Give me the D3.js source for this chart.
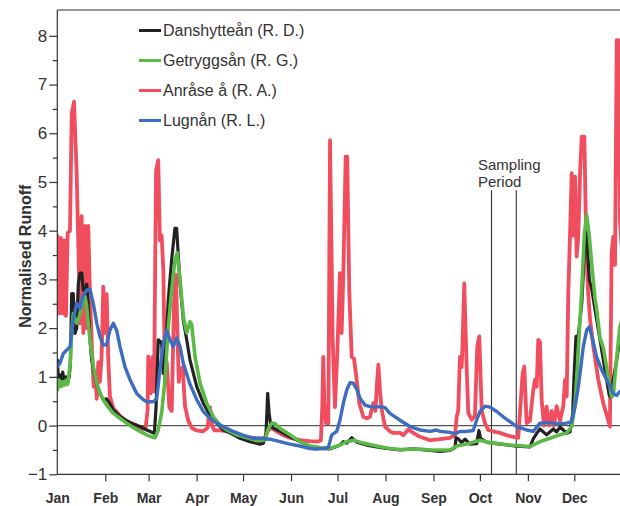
<!DOCTYPE html>
<html>
<head>
<meta charset="utf-8">
<script src="https://cdn.jsdelivr.net/npm/d3@7"></script>
<style>
  html, body { margin: 0; padding: 0; background: #fff; }
  svg { display: block; font-family: "Liberation Sans", Arial, sans-serif; }
</style>
</head>
<body>
<svg id="chart" width="620" height="506"></svg>
<script>
// Daily normalised runoff, one year (day of year, value)
const danshyttean = [
  [0,1.35],[0.6,1.0],[1.3,1.05],[2.4,0.86],[3.5,1.1],[4.5,0.85],[5.6,1.0],[6.7,0.9],[7.7,1.0],[8.5,1.3],
  [9.3,2.71],[10.3,2.71],[11.4,1.89],[12.5,2.0],[13.6,2.92],[14.7,3.13],[15.8,3.13],[16.8,2.78],[17.9,2.75],
  [19,2.9],[20,2.44],[21.1,1.76],[22.2,1.35],[23.3,1.15],[25.5,0.86],[27.6,0.66],[29.7,0.53],[31.9,0.55],
  [34,0.45],[36.2,0.32],[40.5,0.19],[44.8,0.1],[49.1,0.03],[53.4,-0.02],[57.8,-0.09],[60,-0.12],[62.7,-0.16],
  [63.8,0.39],[65.2,1.76],[67.4,1.7],[68.5,1.07],[70.2,1.62],[71.7,2.58],[73.9,3.41],[76,4.05],[77.1,4.05],
  [78.2,3.47],[79.3,2.92],[81.4,2.17],[83.6,1.76],[85.7,1.35],[87.9,1.07],[90.1,0.8],[94.3,0.46],[98.6,0.22],
  [103,0.05],[107.2,-0.09],[111.6,-0.15],[118,-0.26],[124.5,-0.33],[131,-0.38],[133.1,-0.36],[134.8,-0.2],
  [135.9,0.66],[136.8,0.26],[137.9,0.0],[139.5,-0.05],[143.9,-0.12],[150.3,-0.23],[156.8,-0.33],[163.2,-0.43],
  [169.7,-0.47],[176.2,-0.48],[182.6,-0.4],[184.8,-0.33],[187,-0.36],[190.2,-0.25],[193.4,-0.34],[199.9,-0.4],
  [206.3,-0.44],[212.8,-0.47],[221.4,-0.5],[230,-0.48],[240.8,-0.51],[247.2,-0.53],[253.7,-0.51],[256.9,-0.45],
  [257.6,-0.25],[259,-0.27],[261.2,-0.35],[263.4,-0.28],[266.6,-0.38],[270.9,-0.37],[272.4,-0.1],[273.5,-0.27],
  [277.4,-0.34],[286,-0.38],[296.8,-0.42],[305.3,-0.44],[307.5,-0.27],[309.7,-0.16],[311.8,-0.07],[314,-0.13],
  [316.1,-0.19],[320.4,-0.07],[322.6,-0.13],[324.7,-0.03],[326.9,-0.09],[329.1,-0.16],[331.2,-0.13],[333,0.26],
  [333.8,1.0],[335.1,1.83],[336.6,1.85],[338.8,2.51],[340.5,3.54],[341.6,4.08],[342.7,3.54],[343.7,2.99],
  [345.3,2.8],[347.4,2.37],[350.6,1.76],[353.8,1.14],[356.6,0.62],[357.5,0.58],[359.2,0.95],[361.4,1.35],
  [363.5,1.8],[365,1.95]
];

const getryggsan = [
  [0,0.73],[1.3,0.93],[2.4,0.8],[3.5,0.9],[4.5,0.83],[5.6,0.93],[6.7,0.85],[8.2,1.21],[9.3,1.89],[10.3,2.3],
  [12.5,2.1],[13.6,2.17],[14.7,2.3],[15.8,2.45],[16.8,2.58],[17.9,2.65],[19,2.45],[20,2.1],[21.1,1.76],
  [23.3,1.21],[25.5,0.87],[27.6,0.66],[29.7,0.53],[31.9,0.42],[36.2,0.25],[40.5,0.15],[44.8,0.05],[49.1,-0.04],
  [53.4,-0.12],[57.8,-0.19],[60,-0.22],[63.1,-0.25],[65.2,-0.09],[67.4,0.26],[69.6,0.94],[71.7,2.03],[73.9,2.78],
  [76,3.4],[77.5,3.55],[79.3,2.99],[81.4,2.24],[83.6,1.9],[85.7,2.13],[86.8,2.08],[89,1.41],[92.2,0.87],
  [96.5,0.46],[100.8,0.18],[105.1,0.01],[109.4,-0.09],[115.9,-0.19],[122.4,-0.25],[128.8,-0.31],[134.2,-0.3],
  [136.3,-0.06],[138.5,0.05],[140.6,0.04],[143.9,-0.06],[150.3,-0.19],[156.8,-0.33],[163.2,-0.42],[169.7,-0.45],
  [176.2,-0.47],[182.6,-0.4],[187,-0.33],[191.2,-0.3],[197.7,-0.36],[206.3,-0.42],[214.9,-0.47],[221.4,-0.49],
  [234.3,-0.48],[240.8,-0.5],[253.7,-0.5],[258,-0.42],[264.5,-0.38],[273.1,-0.3],[279.5,-0.35],[292.4,-0.4],
  [305.3,-0.43],[311.8,-0.33],[318.3,-0.26],[324.7,-0.19],[329.1,-0.15],[332.3,-0.02],[334.5,0.46],[335.9,1.14],
  [337,1.8],[338.8,2.78],[340.5,3.95],[342,4.32],[343.7,3.88],[345.3,3.3],[347.4,2.6],[348.4,2.4],[350.6,1.8],
  [352.7,1.6],[355.9,1.0],[358.1,0.59],[359.2,0.62],[361.4,1.41],[363.5,2.03],[365,2.2]
];

const anrase = [
  [0,3.9],[1.3,2.3],[2.4,3.85],[3.5,2.3],[4.5,3.8],[5.6,2.25],[6.7,3.95],[8.2,4.0],[9.3,6.4],[10.8,6.65],
  [12.5,5.2],[13.5,3.8],[14.7,2.1],[15.7,4.3],[16.8,1.9],[17.9,4.1],[19,2.0],[20,4.1],[21.1,2.7],[22.5,1.5],
  [23.5,0.8],[24.4,1.1],[25.5,0.55],[26.5,1.3],[27.5,0.9],[28.6,1.4],[29.7,2.85],[30.6,1.9],[31.9,2.7],[33,1.3],
  [34,0.6],[36.2,0.35],[38.4,0.28],[41,0.18],[44.8,0.08],[48,0.05],[51.3,0.0],[54,-0.08],[57,-0.05],[58.3,0.3],
  [58.8,1.42],[60.3,0.66],[61.6,1.41],[62.5,0.7],[63.8,5.24],[65.2,5.45],[66.3,3.8],[67.4,3.9],[68.5,3.2],
  [69.6,0.9],[70.7,1.3],[72.4,0.38],[73.9,0.3],[75.4,2.5],[76.7,3.1],[77.5,2.0],[78.5,0.9],[79.3,1.1],[81,1.2],
  [82.5,0.4],[84.6,0.1],[87,-0.05],[90,-0.1],[94,-0.12],[97,-0.05],[98.6,0.38],[100,0.0],[101.5,-0.1],[105,-0.1],
  [110,-0.12],[114,-0.18],[120,-0.22],[126,-0.25],[131,-0.27],[134,-0.25],[136,-0.1],[138.5,-0.05],[141.7,-0.12],
  [146,-0.2],[150,-0.25],[157,-0.3],[163,-0.32],[168.4,-0.33],[170.3,-0.3],[171.2,0.4],[171.8,1.41],[172.5,0.5],
  [173.6,0.05],[175.1,0.05],[176.2,5.86],[177.9,1.76],[179.4,0.38],[180.9,1.5],[182.6,3.13],[183.7,1.9],
  [184.8,3.13],[186.3,5.52],[187.3,5.52],[188.6,2.78],[190.2,1.41],[191.7,1.37],[193.4,0.94],[195.1,0.46],
  [197.7,0.18],[200,0.15],[202,0.18],[204.1,0.46],[205.5,0.3],[206.6,0.9],[207.4,1.25],[208.5,0.7],[209.6,0.32],
  [211.7,-0.02],[214.9,-0.12],[217.1,-0.15],[221.4,-0.15],[223.5,-0.2],[226.7,-0.08],[230,-0.15],[234.3,-0.23],
  [240.8,-0.3],[247.2,-0.28],[253.7,-0.25],[256.9,-0.2],[258,0.18],[259,0.3],[260.1,1.41],[261.2,1.2],[261.6,1.5],
  [262.9,2.92],[264.5,1.14],[265.5,0.26],[267.7,0.12],[269.8,0.2],[271.3,1.62],[272.6,1.83],[274.2,0.3],
  [276.3,0.05],[278.4,-0.09],[283,-0.13],[286,-0.15],[290.3,-0.2],[294.6,-0.23],[297.8,-0.25],[298.9,0.26],
  [300.6,1.07],[301.7,1.21],[303.2,0.05],[305.3,0.1],[307.5,0.73],[308.6,0.94],[309.7,0.8],[310.7,1.76],
  [311.8,1.72],[312.9,0.53],[314.4,0.0],[316.1,0.39],[317.8,0.0],[319.4,0.3],[320.9,0.0],[322.6,0.4],[324.7,0.1],
  [326.9,0.4],[328,0.94],[329.1,0.6],[330.1,2.72],[331.2,3.88],[332.3,5.18],[333.4,3.9],[334.5,5.11],[335.5,3.47],
  [336.6,3.9],[337.7,5.18],[338.8,5.93],[340.5,5.93],[341.6,3.88],[342.7,2.85],[344.2,2.17],[346.3,1.62],
  [349.5,0.94],[352.7,0.46],[355.9,0.11],[357,-0.02],[358.1,3.54],[359.2,3.88],[360.3,3.3],[361.4,7.91],
  [362.4,7.91],[363.5,4.2],[365,3.5]
];

const lugnan = [
  [0,1.21],[1.7,1.28],[3.9,1.48],[6.1,1.55],[8.2,1.62],[10.3,2.17],[12.5,2.51],[14.7,2.4],[16.4,2.65],[19,2.78],
  [21.1,2.8],[23.3,2.5],[25.5,2.1],[27.6,1.82],[29.7,1.65],[31.9,1.66],[34,1.96],[36.2,2.1],[38.4,1.95],
  [40.5,1.62],[43.7,1.21],[47,0.94],[51.3,0.66],[55.6,0.53],[57.8,0.49],[62,0.49],[64.2,0.55],[66.3,1.14],
  [68.5,1.69],[70.7,1.95],[72.8,1.76],[74.9,1.62],[77.1,1.8],[79.3,1.62],[81.4,1.28],[85.7,0.85],[90.1,0.53],
  [94.3,0.29],[98.6,0.15],[103,0.05],[107.2,-0.02],[113.7,-0.12],[120.2,-0.2],[126.6,-0.26],[131,-0.26],
  [137.4,-0.28],[143.9,-0.33],[150.3,-0.38],[156.8,-0.42],[163.2,-0.47],[166.5,-0.48],[171.8,-0.47],
  [175.1,-0.45],[177.3,-0.19],[180.5,-0.12],[182.6,0.11],[184.8,0.46],[187,0.73],[189.1,0.88],[191.2,0.87],
  [193.4,0.75],[195.5,0.56],[198.8,0.42],[202,0.39],[205.2,0.38],[208.5,0.39],[211.7,0.37],[214.9,0.25],
  [218.2,0.18],[221.4,0.11],[227.8,-0.02],[234.3,-0.09],[240.8,-0.12],[245.1,-0.09],[247.2,-0.12],[253.7,-0.14],
  [256.9,-0.17],[260.1,-0.12],[264.5,-0.12],[268.7,-0.1],[271.3,0.15],[273.1,0.29],[276.3,0.4],[279.5,0.38],
  [283.9,0.29],[288.1,0.18],[292.4,0.08],[296.8,-0.02],[303.2,-0.09],[307.5,-0.12],[311.8,0.05],[316.1,0.06],
  [320.4,0.05],[324.7,0.04],[329.1,0.05],[332.3,0.08],[334.5,0.39],[336.6,0.8],[337.7,1.07],[339.8,1.62],
  [342,1.96],[343.7,2.03],[345.9,1.76],[348.4,1.41],[351.7,1.14],[354.9,0.94],[359.2,0.66],[361.4,0.62],
  [363.5,0.7],[365,0.72]
];

const seriesNames = ["Danshytteån (R. D.)", "Getryggsån (R. G.)", "Anråse å (R. A.)", "Lugnån (R. L.)"];
const seriesColors = ["#222222", "#5cb947", "#f04d5e", "#3d6dbf"];

const monthLabels = ["Jan","Feb","Mar","Apr","May","Jun","Jul","Aug","Sep","Oct","Nov","Dec"];
const monthStarts = [0, 31, 59, 90, 120, 151, 181, 212, 243, 273, 304, 334];
const yTicks = [-1, 0, 1, 2, 3, 4, 5, 6, 7, 8];
const yMinorTicks = [-0.5, 0.5, 1.5, 2.5, 3.5, 4.5, 5.5, 6.5, 7.5];
const samplingPeriod = [280.5, 296.5];

const svg = d3.select("#chart");
const plotLeft = 57.3, plotRight = 622.3, plotTop = 10, plotBottom = 474.3;

const x = d3.scaleLinear().domain([0, 365]).range([plotLeft, plotRight]);
const y = d3.scaleLinear().domain([-1, 8.53]).range([plotBottom, plotTop]);

svg.append("defs").append("clipPath").attr("id", "plot")
  .append("rect").attr("x", plotLeft).attr("y", plotTop)
  .attr("width", plotRight - plotLeft).attr("height", plotBottom - plotTop);

const ink = "#333";

// zero reference line
svg.append("line")
  .attr("x1", plotLeft).attr("x2", plotRight)
  .attr("y1", y(0)).attr("y2", y(0))
  .attr("stroke", "#555").attr("stroke-width", 1.2);

// sampling period markers
samplingPeriod.forEach(d => {
  svg.append("line")
    .attr("x1", x(d)).attr("x2", x(d))
    .attr("y1", y(4.83)).attr("y2", plotBottom)
    .attr("stroke", ink).attr("stroke-width", 1.1);
});
const sampX = x(samplingPeriod[0]) - 13.5;
const sampText = svg.append("text").attr("font-size", 15).attr("fill", ink);
sampText.append("tspan").attr("x", sampX).attr("y", 170).text("Sampling");
sampText.append("tspan").attr("x", sampX).attr("y", 187).text("Period");

// series
const line = d3.line().x(d => x(d[0])).y(d => y(d[1]));
const drawOrder = [
  { data: anrase, color: seriesColors[2], w: 3.8 },
  { data: danshyttean, color: seriesColors[0], w: 3.2 },
  { data: getryggsan, color: seriesColors[1], w: 3.6 },
  { data: lugnan, color: seriesColors[3], w: 3.4 }
];
const g = svg.append("g").attr("clip-path", "url(#plot)");
drawOrder.forEach(s => {
  g.append("path").datum(s.data)
    .attr("d", line)
    .attr("fill", "none")
    .attr("stroke", s.color)
    .attr("stroke-width", s.w)
    .attr("stroke-linejoin", "round")
    .attr("stroke-linecap", "round");
});

// frame top
svg.append("line").attr("x1", plotLeft).attr("x2", plotRight).attr("y1", plotTop).attr("y2", plotTop)
  .attr("stroke", ink).attr("stroke-width", 1.2);

// y axis: minor and major ticks
const yMinor = svg.append("g").attr("transform", `translate(${plotLeft},0)`)
  .call(d3.axisLeft(y).tickValues(yMinorTicks).tickSize(4.5).tickFormat(""));
yMinor.select(".domain").remove();
const yAxis = svg.append("g").attr("transform", `translate(${plotLeft},0)`)
  .call(d3.axisLeft(y).tickValues(yTicks).tickSize(8).tickPadding(2).tickFormat(d3.format("d")));
yAxis.select(".domain").attr("d", `M0,${plotTop}V${plotBottom}`);
[yMinor, yAxis].forEach(a => {
  a.selectAll("line").attr("stroke", ink).attr("stroke-width", 1.2);
  a.selectAll("path").attr("stroke", ink).attr("stroke-width", 1.2);
});
yAxis.selectAll("text").attr("font-size", 17).attr("fill", ink)
  .attr("font-family", "'Liberation Sans', Arial, sans-serif");

// x axis
const xAxis = svg.append("g").attr("transform", `translate(0,${plotBottom})`)
  .call(d3.axisBottom(x).tickValues(monthStarts).tickSize(7).tickPadding(12)
    .tickFormat((d, i) => monthLabels[i]));
xAxis.select(".domain").attr("d", `M${plotLeft},0H${plotRight}`)
  .attr("stroke", ink).attr("stroke-width", 1.2);
xAxis.selectAll(".tick line").attr("stroke", ink).attr("stroke-width", 1.2)
  .filter(d => d === 0).remove();
xAxis.selectAll("text").attr("font-size", 14).attr("font-weight", "bold").attr("fill", ink)
  .attr("font-family", "'Liberation Sans', Arial, sans-serif");

// y axis title
svg.append("text")
  .attr("transform", `translate(31,${(plotTop + plotBottom) / 2 + 14}) rotate(-90)`)
  .attr("text-anchor", "middle")
  .attr("font-size", 16).attr("font-weight", "bold").attr("fill", ink)
  .text("Normalised Runoff");

// legend
const legend = svg.append("g");
seriesNames.forEach((name, i) => {
  const ly = 30.5 + i * 30;
  legend.append("line").attr("x1", 139).attr("x2", 161).attr("y1", ly).attr("y2", ly)
    .attr("stroke", seriesColors[i]).attr("stroke-width", 3);
  legend.append("text").attr("x", 163).attr("y", ly).attr("dy", "0.36em")
    .attr("font-size", 16).attr("fill", ink).text(name);
});
</script>
</body>
</html>
